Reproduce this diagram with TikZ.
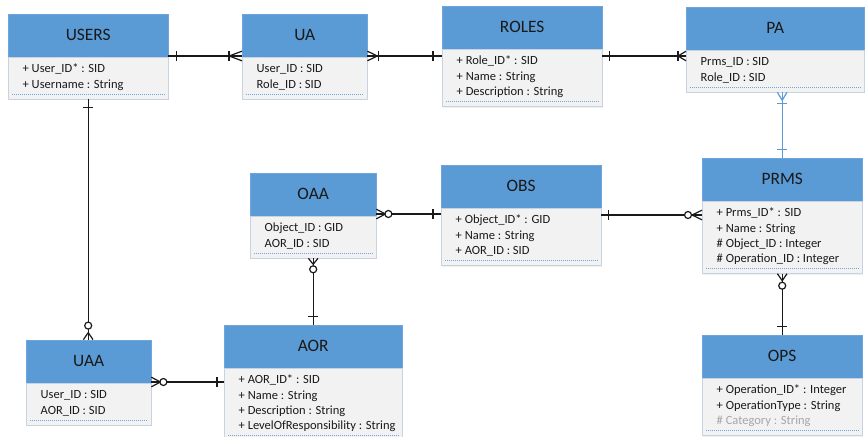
\documentclass[tikz,border=0pt]{standalone}
\usepackage{fontspec}
\setmainfont{Carlito}
\usetikzlibrary{positioning,decorations.markings,shadows}
\definecolor{hd}{RGB}{91,155,213}
\definecolor{bd}{RGB}{242,242,242}
\definecolor{ln}{RGB}{200,211,226}
\definecolor{dt}{RGB}{110,165,220}
\definecolor{tx}{RGB}{25,25,25}
\definecolor{gy}{RGB}{166,166,166}
\def\hdh{43}
\def\rowh{15.2}
\newcommand{\entity}[6]{\node[hdbox,minimum width=#3,anchor=south west] (#4) at (#1,#2) {#4};
	\node[bdbox,minimum width=#3,minimum height=\rowh*#5+11.5,anchor=north west] (#4-b) at (#1,#2) {};
	\node[rows,anchor=north west] at ([xshift=14.5pt,yshift=-5pt]#4-b.north west) {\strut#6};
	\draw[dots] ([xshift=4pt,yshift=5pt]#4-b.south west) -- ([xshift=-4pt,yshift=5pt]#4-b.south east); }

\begin{document}
\begin{tikzpicture}[x=1pt,y=-1pt,
	hdbox/.style={draw=dt,fill=hd,minimum height=\hdh,inner sep=0pt,text=tx,font=\fontsize{17.4}{20}\selectfont,drop shadow={opacity=0.12,shadow xshift=1.2pt,shadow yshift=-1.2pt}},
	bdbox/.style={draw=ln,fill=bd,inner sep=0pt,drop shadow={opacity=0.12,shadow xshift=1.2pt,shadow yshift=-1.2pt}},
	rows/.style={align=left,inner sep=0pt,text=tx,font=\fontsize{12.5}{15.2}\selectfont},
	dots/.style={draw=dt,line width=0.7pt,dash pattern=on 1.2pt off 0.8pt},
	con/.style={draw,color=black!90,line width=1.2pt},
	mk/.style 2 args={postaction={decorate,decoration={markings,mark=at position #1 with {#2}}}},
	bar/.style={mk={#1}{\draw (0,-4.8)--(0,4.8);}},
	ring/.style={mk={#1}{\draw[fill=white] (0,0) circle (3.5);}},
	crowend/.style={mk={-#1pt}{\draw (0,0)--(#1,-4.8) (0,0)--(#1,4.8);}},
	crowstart/.style={mk={#1pt}{\draw (0,0)--(-#1,-4.8) (0,0)--(-#1,4.8);}}]
\useasboundingbox (0,0) rectangle (866,436);

\entity{8}{57}{160}{USERS}{2}{+ User\_ID* : SID\\+ Username : String}
\entity{242}{57}{125}{UA}{2}{User\_ID : SID\\Role\_ID : SID}
\entity{442}{49}{160}{ROLES}{3}{+ Role\_ID* : SID\\+ Name : String\\+ Description : String}
\entity{686}{50}{178}{PA}{2}{Prms\_ID : SID\\Role\_ID : SID}
\entity{250}{216}{126}{OAA}{2}{Object\_ID : GID\\AOR\_ID : SID}
\entity{441}{208}{160}{OBS}{3}{+ Object\_ID* : GID\\+ Name : String\\+ AOR\_ID : SID}
\entity{702}{201}{160}{PRMS}{4}{+ Prms\_ID* : SID\\+ Name : String\\\# Object\_ID : Integer\\\# Operation\_ID : Integer}
\entity{26}{383}{125}{UAA}{2}{User\_ID : SID\\AOR\_ID : SID}
\entity{224}{368}{178}{AOR}{4}{+ AOR\_ID* : SID\\+ Name : String\\+ Description : String\\+ LevelOfResponsibility : String}
\entity{702}{378}{160}{OPS}{3}{+ Operation\_ID* : Integer\\+ OperationType : String\\\textcolor{gy}{\# Category : String}}

\draw[con,bar=8pt,bar=-13pt,crowend=13] ([yshift=1pt]USERS.south east) -- ([yshift=1pt]UA.south west);
\draw[con,crowstart=10,bar=11pt,bar=-9pt] ([yshift=1pt]UA.south east) -- ([yshift=1pt]UA.south east -| ROLES.west);
\draw[con,bar=7pt,bar=-8pt,crowend=8] ([yshift=1pt]UA.south east -| ROLES.east) -- ([yshift=1pt]UA.south east -| PA.west);
\draw[con,color=hd,crowstart=8,bar=11pt,bar=-8pt] (PRMS.north |- PA-b.south) -- (PRMS.north);
\draw[con,crowstart=9,ring=12pt,bar=-8pt] ([yshift=2pt]OAA.south east) -- ([yshift=2pt]OAA.south east -| OBS.west);
\draw[con,bar=7pt,ring=-14pt,crowend=10] ([yshift=-7pt]OBS.south east) -- ([yshift=-7pt]OBS.south east -| PRMS.west);
\draw[con,crowstart=6,ring=11pt,bar=-8pt] (OAA-b.south) -- (AOR.north);
\draw[con,bar=8pt,ring=-14pt,crowend=7] (USERS-b.south) -- (USERS-b.south |- UAA.north);
\draw[con,crowstart=9,ring=12pt,bar=-7pt] ([yshift=1pt]UAA.south east) -- ([yshift=1pt]UAA.south east -| AOR.west);
\draw[con,crowstart=7,ring=12pt,bar=-8pt] (PRMS-b.south) -- (OPS.north);
\end{tikzpicture}
\end{document}
